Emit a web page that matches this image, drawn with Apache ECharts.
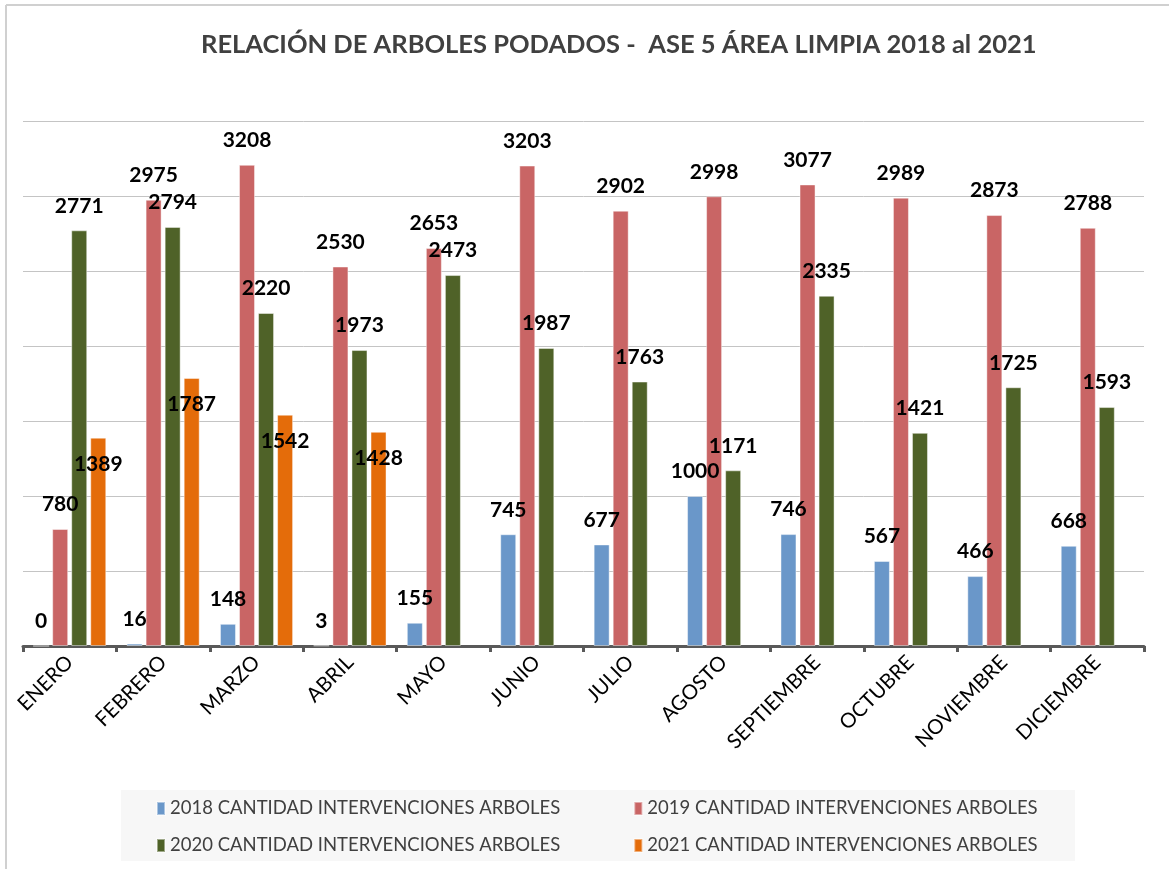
<!DOCTYPE html>
<html>
<head>
<meta charset="utf-8">
<script src="https://cdn.jsdelivr.net/npm/echarts@6/dist/echarts.min.js"></script>
<style>
html,body{margin:0;padding:0;background:#fff;}
#chart{width:1169px;height:869px;}
</style>
</head>
<body>
<div id="chart"></div>
<script>
const months = ['ENERO','FEBRERO','MARZO','ABRIL','MAYO','JUNIO','JULIO','AGOSTO','SEPTIEMBRE','OCTUBRE','NOVIEMBRE','DICIEMBRE'];
const seriesNames = ['2018 CANTIDAD INTERVENCIONES ARBOLES','2019 CANTIDAD INTERVENCIONES ARBOLES','2020 CANTIDAD INTERVENCIONES ARBOLES','2021 CANTIDAD INTERVENCIONES ARBOLES'];
const v2018 = [0, 16, 148, 3, 155, 745, 677, 1000, 746, 567, 466, 668];
const v2019 = [780, 2975, 3208, 2530, 2653, 3203, 2902, 2998, 3077, 2989, 2873, 2788];
const v2020 = [2771, 2794, 2220, 1973, 2473, 1987, 1763, 1171, 2335, 1421, 1725, 1593];
const v2021 = [1389, 1787, 1542, 1428, null, null, null, null, null, null, null, null];
const colors = ['#6a97c9', '#c96565', '#4f6228', '#e46c0a'];
const titleText = 'RELACIÓN DE ARBOLES PODADOS -  ASE 5 ÁREA LIMPIA 2018 al 2021';

const FONT = 'Lato';
const chart = echarts.init(document.getElementById('chart'));

function barSeries(i, data, labelPos, dist) {
  return {
    name: seriesNames[i],
    type: 'bar',
    data: data,
    barWidth: 16,
    barGap: '19%',
    itemStyle: { color: colors[i], borderColor: 'rgba(255,255,255,0.45)', borderWidth: 1 },
    label: {
      show: true,
      position: labelPos,
      distance: dist,
      fontFamily: FONT,
      fontWeight: 'bold',
      fontSize: 21,
      color: '#000'
    }
  };
}

chart.setOption({
  animation: false,
  backgroundColor: '#fff',
  title: {
    text: titleText,
    left: 196,
    top: 27,
    textStyle: { fontFamily: FONT, fontWeight: 'bold', fontSize: 25.5, color: '#404040' }
  },
  graphic: [
    { type: 'line', shape: { x1: 6, y1: 5, x2: 6, y2: 869 }, style: { stroke: '#d0d0d0', lineWidth: 2 } },
    { type: 'line', shape: { x1: 6, y1: 5, x2: 1169, y2: 5 }, style: { stroke: '#d0d0d0', lineWidth: 2 } },
    { type: 'rect', shape: { x: 121, y: 790, width: 954, height: 71 }, style: { fill: '#f7f7f7' }, z: -1 }
  ],
  legend: [
    {
      data: [seriesNames[0], seriesNames[1]],
      top: 794, left: 151,
      itemWidth: 8, itemHeight: 13, itemGap: 73,
      icon: 'rect',
      textStyle: { fontFamily: FONT, fontSize: 18.5, color: '#404040' }
    },
    {
      data: [seriesNames[2], seriesNames[3]],
      top: 831, left: 151,
      itemWidth: 8, itemHeight: 13, itemGap: 73,
      icon: 'rect',
      textStyle: { fontFamily: FONT, fontSize: 18.5, color: '#404040' }
    }
  ],
  grid: { left: 23, right: 25, top: 121, height: 525, containLabel: false },
  xAxis: {
    type: 'category',
    data: months,
    axisLine: { lineStyle: { color: '#595959', width: 3 } },
    axisTick: { show: true, length: 6, lineStyle: { color: '#595959', width: 3 } },
    axisLabel: { rotate: 45, fontFamily: FONT, fontSize: 20.5, color: '#000', margin: 13, interval: 0 }
  },
  yAxis: {
    type: 'value',
    min: 0, max: 3500, interval: 500,
    axisLabel: { show: false },
    axisLine: { show: false },
    axisTick: { show: false },
    splitLine: { lineStyle: { color: '#c4c4c4', width: 1 } }
  },
  series: [
    barSeries(0, v2018, 'top', 14),
    barSeries(1, v2019, 'top', 14),
    barSeries(2, v2020, 'top', 14),
    barSeries(3, v2021, 'insideTop', 16)
  ]
});
</script>
</body>
</html>
